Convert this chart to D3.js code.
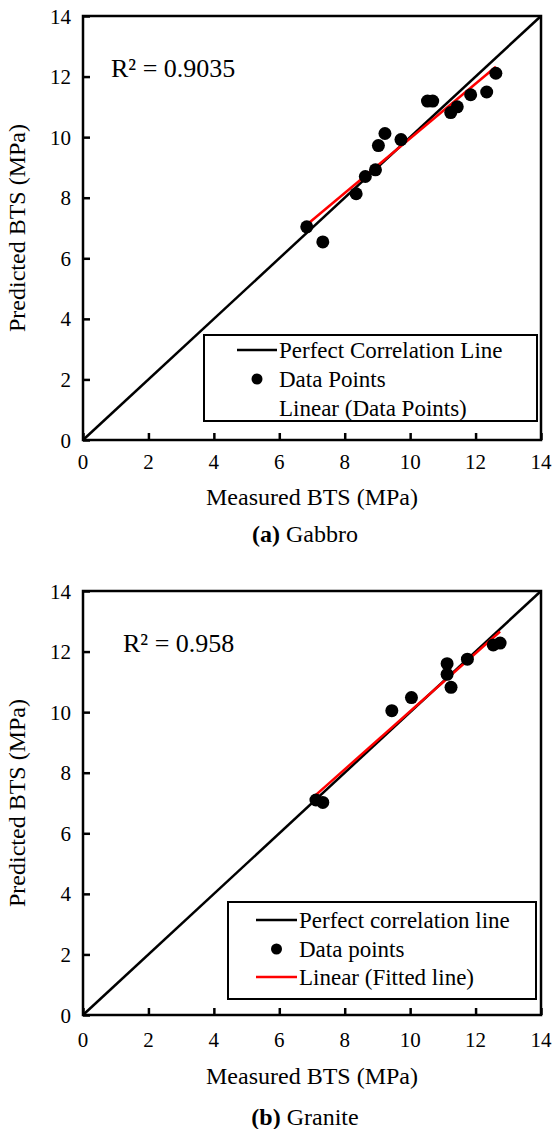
<!DOCTYPE html>
<html>
<head>
<meta charset="utf-8">
<script src="https://cdn.jsdelivr.net/npm/d3@7"></script>
<style>
  body { margin: 0; background: #fff; }
  svg text { font-family: "Liberation Serif", "Times New Roman", Times, serif; fill: #000; }
</style>
</head>
<body>
<svg id="chart" width="553" height="1129"></svg>
<script>
// axis ticks (shared by both panels)
var tickValues = [0, 2, 4, 6, 8, 10, 12, 14];

// (a) Gabbro - measured vs predicted BTS
var gabbroMeasured  = [6.84, 7.33, 8.35, 8.63, 8.94, 9.03, 9.23, 9.72, 10.53, 10.69, 11.24, 11.44, 11.85, 12.34, 12.62];
var gabbroPredicted = [7.04, 6.54, 8.13, 8.70, 8.92, 9.72, 10.12, 9.92, 11.19, 11.19, 10.81, 11.00, 11.40, 11.49, 12.11];

// (b) Granite
var graniteMeasured  = [7.12, 7.33, 9.44, 10.04, 11.13, 11.13, 11.25, 11.75, 12.54, 12.75];
var granitePredicted = [7.10, 7.02, 10.05, 10.48, 11.60, 11.25, 10.82, 11.75, 12.22, 12.28];

var panels = [
  { top: 16, measured: gabbroMeasured, predicted: gabbroPredicted, r2: "R\u00b2 = 0.9035", r2x: 111,
    legend: ["Perfect Correlation Line", "Data Points", "Linear (Data Points)"], legendRedLine: false,
    legendBox: [204, 335, 537, 421], legendRows: [350, 379, 408], legendLine: [237, 277],
    tickDy: 29, titleDy: 65, capDy: 102, tag: "(a)", name: " Gabbro" },
  { top: 591, measured: graniteMeasured, predicted: granitePredicted, r2: "R\u00b2 = 0.958", r2x: 123,
    legend: ["Perfect correlation line", "Data points", "Linear (Fitted line)"], legendRedLine: true,
    legendBox: [228, 902, 536, 999], legendRows: [920, 949, 977], legendLine: [256, 297],
    tickDy: 32, titleDy: 69, capDy: 110, tag: "(b)", name: " Granite" }
];

var svg = d3.select("#chart");
var left = 83, right = 541, plotH = 424;

panels.forEach(function (p) {
  var g = svg.append("g");
  var bottom = p.top + plotH;
  var x = d3.scaleLinear().domain([0, 14]).range([left, right]);
  var y = d3.scaleLinear().domain([0, 14]).range([bottom, p.top]);

  // frame
  g.append("rect")
    .attr("x", left).attr("y", p.top)
    .attr("width", right - left).attr("height", plotH)
    .attr("fill", "none").attr("stroke", "#000").attr("stroke-width", 2.5);

  // inward ticks via d3 axes
  var xAxis = g.append("g")
    .attr("transform", "translate(0," + bottom + ")")
    .call(d3.axisTop(x).tickValues(tickValues).tickSize(7).tickFormat(""));
  var yAxis = g.append("g")
    .attr("transform", "translate(" + left + ",0)")
    .call(d3.axisRight(y).tickValues(tickValues).tickSize(7).tickFormat(""));
  [xAxis, yAxis].forEach(function (a) {
    a.select(".domain").remove();
    a.selectAll("line").attr("stroke", "#000").attr("stroke-width", 2.5);
  });

  // tick labels
  g.selectAll(".xl").data(tickValues).enter().append("text")
    .attr("x", function (d) { return x(d); })
    .attr("y", bottom + p.tickDy)
    .attr("text-anchor", "middle").attr("font-size", "21px")
    .text(function (d) { return d; });
  g.selectAll(".yl").data(tickValues).enter().append("text")
    .attr("x", 71)
    .attr("y", function (d) { return y(d) + 7.5; })
    .attr("text-anchor", "end").attr("font-size", "21px")
    .text(function (d) { return d; });

  // perfect correlation line
  g.append("line")
    .attr("x1", x(0)).attr("y1", y(0)).attr("x2", x(14)).attr("y2", y(14))
    .attr("stroke", "#000").attr("stroke-width", 2.5);

  // linear fit of the data points
  var mx = d3.mean(p.measured), my = d3.mean(p.predicted);
  var sxy = d3.sum(p.measured, function (v, i) { return (v - mx) * (p.predicted[i] - my); });
  var sxx = d3.sum(p.measured, function (v) { return (v - mx) * (v - mx); });
  var slope = sxy / sxx, icpt = my - slope * mx;
  var x0 = d3.min(p.measured), x1 = d3.max(p.measured);
  g.append("line")
    .attr("x1", x(x0)).attr("y1", y(icpt + slope * x0))
    .attr("x2", x(x1)).attr("y2", y(icpt + slope * x1))
    .attr("stroke", "#ff0000").attr("stroke-width", 2.5);

  // data points
  g.selectAll(".pt").data(p.measured).enter().append("circle")
    .attr("cx", function (d) { return x(d); })
    .attr("cy", function (d, i) { return y(p.predicted[i]); })
    .attr("r", 6.5).attr("fill", "#000");

  // R squared
  g.append("text")
    .attr("x", p.r2x).attr("y", p.top + 61)
    .attr("font-size", "26px").text(p.r2);

  // legend
  var b = p.legendBox;
  g.append("rect")
    .attr("x", b[0]).attr("y", b[1]).attr("width", b[2] - b[0]).attr("height", b[3] - b[1])
    .attr("fill", "#fff").attr("stroke", "#000").attr("stroke-width", 2);
  g.append("line")
    .attr("x1", p.legendLine[0]).attr("x2", p.legendLine[1])
    .attr("y1", p.legendRows[0]).attr("y2", p.legendRows[0])
    .attr("stroke", "#000").attr("stroke-width", 2.5);
  g.append("circle")
    .attr("cx", (p.legendLine[0] + p.legendLine[1]) / 2).attr("cy", p.legendRows[1])
    .attr("r", 5.5).attr("fill", "#000");
  if (p.legendRedLine) {
    g.append("line")
      .attr("x1", p.legendLine[0]).attr("x2", p.legendLine[1])
      .attr("y1", p.legendRows[2]).attr("y2", p.legendRows[2])
      .attr("stroke", "#ff0000").attr("stroke-width", 2.5);
  }
  g.selectAll(".lg").data(p.legend).enter().append("text")
    .attr("x", p.legendLine[1] + 2)
    .attr("y", function (d, i) { return p.legendRows[i] + 8; })
    .attr("font-size", "23px")
    .text(function (d) { return d; });

  // axis titles
  g.append("text")
    .attr("x", (left + right) / 2).attr("y", bottom + p.titleDy)
    .attr("text-anchor", "middle").attr("font-size", "24px")
    .text("Measured BTS (MPa)");
  g.append("text")
    .attr("transform", "translate(25," + (p.top + plotH / 2) + ") rotate(-90)")
    .attr("text-anchor", "middle").attr("font-size", "24px")
    .text("Predicted BTS (MPa)");

  // caption
  var cap = g.append("text")
    .attr("x", 305).attr("y", bottom + p.capDy)
    .attr("text-anchor", "middle").attr("font-size", "24px");
  cap.append("tspan").attr("font-weight", "bold").text(p.tag);
  cap.append("tspan").text(p.name);
});
</script>
</body>
</html>
